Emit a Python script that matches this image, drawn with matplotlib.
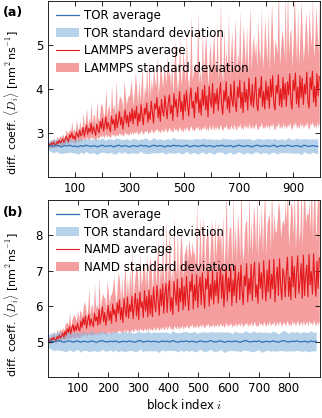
import numpy as np
import matplotlib
matplotlib.use("Agg")
import matplotlib.pyplot as plt

# ---- panel (a): TOR vs LAMMPS ----
tor_blocks_a = np.arange(0, 1000, 10)
tor_mean_a = [
    2.70, 2.71, 2.69, 2.72, 2.70, 2.68, 2.71, 2.70, 2.72, 2.69,
    2.70, 2.68, 2.71, 2.69, 2.72, 2.70, 2.69, 2.71, 2.68, 2.70,
    2.72, 2.69, 2.70, 2.71, 2.68, 2.70, 2.72, 2.69, 2.71, 2.70,
    2.68, 2.71, 2.70, 2.69, 2.72, 2.70, 2.71, 2.68, 2.70, 2.72,
    2.69, 2.71, 2.70, 2.68, 2.71, 2.69, 2.72, 2.70, 2.71, 2.69,
    2.70, 2.72, 2.68, 2.70, 2.71, 2.69, 2.70, 2.72, 2.69, 2.71,
    2.70, 2.68, 2.71, 2.70, 2.72, 2.69, 2.70, 2.71, 2.68, 2.70,
    2.72, 2.70, 2.69, 2.71, 2.70, 2.68, 2.71, 2.72, 2.69, 2.70,
    2.71, 2.69, 2.70, 2.72, 2.68, 2.70, 2.71, 2.69, 2.72, 2.70,
    2.69, 2.71, 2.70, 2.68, 2.72, 2.70, 2.69, 2.71, 2.70, 2.69,
]
tor_std_a = [
    0.10, 0.13, 0.15, 0.14, 0.16, 0.15, 0.17, 0.15, 0.16, 0.14,
    0.16, 0.17, 0.15, 0.16, 0.14, 0.17, 0.15, 0.16, 0.18, 0.15,
    0.16, 0.14, 0.17, 0.15, 0.16, 0.18, 0.15, 0.16, 0.14, 0.17,
    0.15, 0.16, 0.17, 0.15, 0.14, 0.16, 0.18, 0.15, 0.16, 0.17,
    0.15, 0.16, 0.14, 0.17, 0.16, 0.15, 0.18, 0.16, 0.15, 0.17,
    0.16, 0.14, 0.17, 0.15, 0.16, 0.18, 0.15, 0.16, 0.17, 0.15,
    0.16, 0.17, 0.15, 0.14, 0.16, 0.18, 0.16, 0.15, 0.17, 0.16,
    0.15, 0.16, 0.18, 0.15, 0.17, 0.16, 0.14, 0.16, 0.17, 0.15,
    0.16, 0.18, 0.15, 0.16, 0.17, 0.15, 0.16, 0.14, 0.17, 0.16,
    0.15, 0.17, 0.16, 0.18, 0.15, 0.16, 0.17, 0.15, 0.16, 0.17,
]
md_blocks_a = np.linspace(0, 1000, 240, endpoint=False)
lammps_mean = [
    2.70, 2.74, 2.71, 2.77, 2.73, 2.79, 2.74, 2.72, 2.80, 2.76, 2.83, 2.77, 2.81, 2.86, 2.78,
    2.84, 2.92, 2.86, 2.80, 2.95, 2.89, 3.00, 2.87, 2.93, 2.84, 3.02, 2.96, 2.90, 3.06, 2.93,
    2.98, 3.12, 2.92, 3.05, 3.18, 2.96, 3.10, 3.02, 3.22, 2.98, 3.14, 3.06, 2.94, 3.20, 3.08,
    3.00, 3.26, 3.10, 3.32, 3.04, 3.18, 3.36, 3.08, 3.24, 3.14, 3.02, 3.38, 3.20, 3.30, 3.06,
    3.42, 3.12, 3.28, 3.48, 3.18, 3.36, 3.08, 3.30, 3.52, 3.22, 3.40, 3.14, 3.46, 3.26, 3.55,
    3.20, 3.50, 3.32, 3.60, 3.16, 3.44, 3.26, 3.64, 3.38, 3.18, 3.56, 3.42, 3.68, 3.24, 3.48,
    3.30, 3.72, 3.46, 3.22, 3.66, 3.54, 3.80, 3.34, 3.60, 3.26, 3.76, 3.50, 3.38, 3.84, 3.56,
    3.32, 3.70, 3.86, 3.44, 3.62, 3.28, 3.90, 3.58, 3.76, 3.36, 3.66, 3.94, 3.48, 3.72, 3.30,
    3.88, 3.50, 3.96, 3.64, 3.38, 3.80, 4.02, 3.56, 3.72, 3.34, 3.92, 3.68, 4.04, 3.46, 3.76,
    3.40, 3.98, 3.62, 4.08, 3.52, 3.84, 3.36, 4.06, 3.74, 3.58, 4.12, 3.44, 3.90, 3.66, 4.00,
    3.50, 3.86, 4.14, 3.62, 3.42, 3.96, 3.72, 4.16, 3.54, 3.82, 3.46, 4.10, 3.76, 3.60, 4.18,
    3.66, 3.48, 4.04, 3.80, 4.20, 3.56, 3.92, 3.46, 4.16, 3.70, 3.98, 3.52, 4.24, 3.84, 3.62,
    4.10, 3.58, 3.90, 4.26, 3.64, 3.50, 4.02, 3.80, 4.28, 3.60, 3.94, 3.54, 4.18, 3.74, 4.06,
    3.56, 4.22, 3.82, 4.30, 3.66, 3.52, 4.08, 3.90, 4.32, 3.62, 4.00, 3.58, 4.26, 3.76, 4.12,
    3.60, 4.16, 3.86, 4.34, 3.70, 3.54, 4.20, 3.96, 4.36, 3.66, 4.04, 3.58, 4.30, 3.80, 4.24,
    3.64, 4.10, 3.88, 4.38, 3.72, 3.56, 4.26, 3.98, 4.40, 3.70, 4.06, 3.60, 4.34, 3.84, 4.28,
]
# upper deviation of the standard-deviation band
lammps_std = [
    0.05, 0.07, 0.06, 0.09, 0.07, 0.11, 0.08, 0.07, 0.13, 0.09, 0.10, 0.15, 0.09, 0.12, 0.10,
    0.11, 0.16, 0.12, 0.22, 0.13, 0.15, 0.26, 0.14, 0.18, 0.13, 0.30, 0.16, 0.15, 0.22, 0.17,
    0.18, 0.34, 0.19, 0.22, 0.40, 0.20, 0.24, 0.21, 0.46, 0.22, 0.26, 0.36, 0.23, 0.52, 0.25,
    0.26, 0.30, 0.58, 0.27, 0.32, 0.29, 0.66, 0.30, 0.34, 0.48, 0.31, 0.72, 0.33, 0.35, 0.32,
    0.80, 0.34, 0.38, 0.36, 0.62, 0.37, 0.40, 0.88, 0.38, 0.41, 0.39, 0.70, 0.42, 0.95, 0.40,
    0.42, 0.46, 1.05, 0.44, 0.47, 0.78, 0.45, 0.48, 1.15, 0.46, 0.50, 0.47, 0.90, 0.49, 1.20,
    0.50, 0.52, 0.49, 1.28, 0.53, 0.51, 0.95, 0.54, 0.52, 1.35, 0.55, 0.53, 1.05, 0.56, 0.54,
    1.45, 0.58, 0.56, 0.59, 1.10, 0.57, 0.60, 1.52, 0.58, 0.61, 0.59, 1.25, 0.62, 0.60, 1.60,
    0.62, 0.64, 1.30, 0.63, 0.65, 0.64, 1.66, 0.66, 0.65, 1.20, 0.67, 0.66, 1.72, 0.68, 0.67,
    0.69, 1.40, 0.68, 0.70, 1.78, 0.69, 0.71, 0.70, 1.35, 0.72, 0.71, 1.84, 0.73, 0.72, 1.50,
    0.73, 0.74, 1.88, 0.73, 0.75, 1.45, 0.74, 0.76, 0.75, 1.92, 0.77, 0.76, 1.55, 0.78, 0.77,
    1.96, 0.79, 0.78, 0.80, 1.60, 0.79, 0.81, 2.00, 0.80, 0.82, 1.48, 0.81, 0.83, 2.04, 0.82,
    0.84, 1.65, 0.83, 0.85, 0.84, 2.08, 0.86, 0.85, 1.58, 0.87, 0.86, 2.10, 0.88, 0.87, 1.70,
    0.88, 0.89, 2.12, 0.88, 0.90, 1.62, 0.89, 0.91, 2.15, 0.90, 0.92, 1.75, 0.91, 0.93, 2.05,
    0.92, 2.18, 0.93, 0.92, 1.68, 0.94, 0.93, 2.20, 0.95, 0.94, 1.80, 0.96, 0.95, 2.22, 0.96,
    0.97, 0.96, 1.85, 0.98, 0.97, 2.25, 0.99, 0.98, 1.72, 1.00, 0.99, 2.28, 1.01, 1.00, 1.90,
]
# lower edge of the standard-deviation band
lammps_lower = [
    2.64, 2.66, 2.64, 2.68, 2.65, 2.69, 2.66, 2.65, 2.70, 2.68, 2.72, 2.69, 2.71, 2.74, 2.70,
    2.74, 2.78, 2.75, 2.72, 2.80, 2.77, 2.82, 2.76, 2.79, 2.74, 2.83, 2.80, 2.78, 2.85, 2.80,
    2.84, 2.89, 2.82, 2.86, 2.91, 2.84, 2.88, 2.86, 2.93, 2.85, 2.90, 2.87, 2.83, 2.92, 2.88,
    2.88, 2.95, 2.90, 2.97, 2.89, 2.93, 2.98, 2.90, 2.95, 2.92, 2.88, 2.99, 2.94, 2.97, 2.90,
    2.98, 2.93, 2.96, 3.01, 2.94, 2.99, 2.92, 2.97, 3.03, 2.95, 3.00, 2.93, 3.02, 2.96, 3.04,
    2.96, 3.03, 2.99, 3.06, 2.95, 3.02, 2.98, 3.07, 3.01, 2.96, 3.05, 3.02, 3.08, 2.97, 3.03,
    3.00, 3.09, 3.03, 2.98, 3.07, 3.05, 3.11, 3.01, 3.06, 2.99, 3.10, 3.04, 3.02, 3.12, 3.06,
    3.01, 3.08, 3.13, 3.03, 3.07, 3.00, 3.14, 3.06, 3.10, 3.02, 3.08, 3.15, 3.04, 3.09, 3.01,
    3.13, 3.05, 3.15, 3.08, 3.03, 3.11, 3.17, 3.06, 3.10, 3.03, 3.14, 3.09, 3.17, 3.05, 3.11,
    3.04, 3.15, 3.08, 3.18, 3.06, 3.12, 3.04, 3.18, 3.10, 3.07, 3.19, 3.05, 3.14, 3.09, 3.16,
    3.06, 3.13, 3.19, 3.09, 3.05, 3.15, 3.11, 3.20, 3.07, 3.12, 3.06, 3.18, 3.12, 3.08, 3.21,
    3.10, 3.07, 3.17, 3.12, 3.22, 3.08, 3.15, 3.06, 3.21, 3.11, 3.17, 3.08, 3.23, 3.13, 3.09,
    3.19, 3.09, 3.14, 3.23, 3.10, 3.07, 3.17, 3.13, 3.24, 3.09, 3.16, 3.08, 3.21, 3.12, 3.18,
    3.08, 3.21, 3.13, 3.24, 3.10, 3.07, 3.18, 3.15, 3.25, 3.09, 3.17, 3.09, 3.23, 3.12, 3.19,
    3.09, 3.20, 3.14, 3.25, 3.11, 3.08, 3.21, 3.16, 3.26, 3.10, 3.18, 3.09, 3.24, 3.13, 3.22,
    3.10, 3.19, 3.15, 3.26, 3.12, 3.08, 3.23, 3.17, 3.27, 3.11, 3.19, 3.10, 3.25, 3.14, 3.23,
]

# ---- panel (b): TOR vs NAMD ----
tor_blocks_b = np.arange(0, 900, 9)
tor_mean_b = [
    5.00, 5.02, 4.99, 5.01, 5.03, 5.00, 4.98, 5.01, 5.02, 4.99,
    5.00, 5.02, 4.98, 5.01, 5.00, 4.99, 5.02, 5.00, 4.98, 5.01,
    5.03, 5.00, 4.99, 5.01, 5.00, 5.02, 4.98, 5.00, 5.01, 4.99,
    5.02, 5.00, 4.98, 5.01, 5.03, 4.99, 5.00, 5.02, 4.99, 5.01,
    5.00, 4.98, 5.02, 5.00, 5.01, 4.99, 5.03, 5.00, 4.98, 5.01,
    5.00, 5.02, 4.99, 5.01, 5.00, 4.98, 5.02, 5.01, 4.99, 5.00,
    5.03, 5.00, 4.99, 5.01, 5.02, 4.98, 5.00, 5.01, 4.99, 5.02,
    5.00, 4.98, 5.01, 5.03, 5.00, 4.99, 5.01, 5.00, 5.02, 4.98,
    5.00, 5.01, 4.99, 5.02, 5.00, 4.98, 5.01, 5.03, 5.00, 4.99,
    5.01, 5.00, 5.02, 4.99, 5.00, 5.01, 4.98, 5.02, 5.00, 5.01,
]
tor_std_b = [
    0.18, 0.22, 0.25, 0.24, 0.27, 0.25, 0.26, 0.28, 0.25, 0.27,
    0.26, 0.24, 0.28, 0.26, 0.25, 0.27, 0.29, 0.25, 0.26, 0.28,
    0.25, 0.27, 0.26, 0.24, 0.28, 0.26, 0.27, 0.25, 0.29, 0.26,
    0.27, 0.25, 0.26, 0.28, 0.24, 0.27, 0.26, 0.28, 0.25, 0.27,
    0.26, 0.29, 0.25, 0.27, 0.26, 0.24, 0.28, 0.26, 0.27, 0.25,
    0.28, 0.26, 0.27, 0.25, 0.29, 0.26, 0.24, 0.27, 0.28, 0.26,
    0.25, 0.27, 0.28, 0.26, 0.25, 0.29, 0.27, 0.26, 0.24, 0.28,
    0.26, 0.27, 0.25, 0.28, 0.26, 0.27, 0.29, 0.25, 0.26, 0.28,
    0.27, 0.25, 0.26, 0.28, 0.27, 0.24, 0.26, 0.29, 0.27, 0.25,
    0.28, 0.26, 0.27, 0.25, 0.28, 0.26, 0.27, 0.29, 0.26, 0.27,
]
md_blocks_b = np.linspace(0, 905, 240, endpoint=False)
namd_mean = [
    5.00, 5.05, 5.01, 5.09, 5.04, 5.12, 5.06, 5.03, 5.14, 5.08, 5.18, 5.10, 5.16, 5.24, 5.12,
    5.30, 5.18, 5.36, 5.26, 5.42, 5.22, 5.38, 5.48, 5.28, 5.44, 5.32, 5.52, 5.36, 5.30, 5.58,
    5.40, 5.66, 5.48, 5.72, 5.38, 5.60, 5.76, 5.44, 5.64, 5.52, 5.42, 5.80, 5.58, 5.70, 5.46,
    5.92, 5.50, 5.74, 5.98, 5.56, 5.82, 5.46, 5.70, 6.02, 5.60, 5.86, 5.52, 6.06, 5.76, 5.90,
    5.56, 6.10, 5.80, 6.18, 5.62, 5.96, 5.54, 6.22, 5.88, 5.70, 6.26, 5.66, 6.04, 5.84, 6.28,
    5.64, 6.00, 6.36, 5.72, 6.20, 5.62, 6.40, 5.96, 6.12, 5.68, 6.44, 5.86, 6.28, 5.70, 6.46,
    5.78, 6.30, 5.70, 6.54, 6.06, 5.84, 6.58, 6.18, 5.74, 6.48, 6.02, 6.62, 5.80, 6.36, 6.64,
    5.82, 6.44, 6.72, 5.86, 6.24, 5.76, 6.70, 6.34, 6.04, 6.76, 5.84, 6.50, 6.12, 6.80, 5.90,
    6.56, 6.00, 6.84, 6.28, 5.88, 6.70, 6.42, 6.90, 5.92, 6.60, 6.16, 6.88, 5.96, 6.52, 6.82,
    6.04, 6.94, 6.36, 5.94, 6.78, 6.48, 6.98, 6.00, 6.62, 6.20, 7.00, 6.06, 6.72, 6.30, 6.96,
    6.08, 6.66, 7.06, 6.22, 6.88, 5.98, 6.56, 7.10, 6.14, 6.80, 6.40, 7.08, 6.02, 6.74, 6.30,
    7.14, 6.10, 6.70, 6.96, 6.18, 7.16, 6.44, 6.04, 6.86, 6.58, 7.20, 6.12, 6.78, 6.34, 7.18,
    6.16, 6.84, 7.24, 6.26, 6.60, 6.08, 7.22, 6.50, 6.94, 6.20, 7.28, 6.66, 6.14, 7.02, 6.40,
    7.30, 6.22, 6.90, 6.48, 7.32, 6.12, 6.76, 7.10, 6.30, 7.34, 6.56, 6.18, 7.06, 6.86, 6.26,
    6.96, 7.38, 6.28, 6.82, 6.18, 7.40, 6.54, 7.12, 6.24, 6.92, 7.42, 6.36, 6.70, 7.20, 6.22,
    7.44, 6.30, 6.88, 7.16, 6.26, 7.46, 6.60, 6.98, 6.34, 7.48, 6.74, 6.28, 7.26, 6.50, 7.36,
]
namd_std = [
    0.08, 0.10, 0.09, 0.14, 0.10, 0.18, 0.12, 0.11, 0.22, 0.13, 0.15, 0.26, 0.14, 0.17, 0.15,
    0.18, 0.34, 0.19, 0.21, 0.42, 0.20, 0.23, 0.22, 0.50, 0.24, 0.26, 0.38, 0.25, 0.58, 0.27,
    0.28, 0.30, 0.66, 0.29, 0.32, 0.31, 0.75, 0.33, 0.35, 0.55, 0.34, 0.84, 0.36, 0.38, 0.37,
    0.92, 0.39, 0.41, 0.40, 0.70, 0.42, 0.44, 1.00, 0.43, 0.46, 0.45, 0.82, 0.47, 1.10, 0.48,
    0.49, 0.51, 1.18, 0.50, 0.53, 0.90, 0.52, 0.55, 1.28, 0.54, 0.57, 0.56, 1.00, 0.58, 1.36,
    0.59, 0.61, 0.60, 1.45, 0.63, 0.62, 1.10, 0.64, 0.66, 1.55, 0.65, 0.68, 1.22, 0.67, 0.69,
    1.62, 0.70, 0.72, 0.71, 1.30, 0.73, 0.75, 1.72, 0.74, 0.76, 0.75, 1.40, 0.77, 0.79, 1.80,
    0.78, 0.80, 1.50, 0.81, 0.83, 0.82, 1.88, 0.84, 0.86, 1.42, 0.85, 0.87, 1.95, 0.88, 0.90,
    0.89, 1.60, 0.91, 0.93, 2.02, 0.92, 0.94, 0.93, 1.55, 0.95, 0.97, 2.10, 0.96, 0.98, 1.70,
    0.99, 1.01, 2.16, 1.00, 1.02, 1.65, 1.01, 1.04, 1.03, 2.22, 1.05, 1.06, 1.78, 1.07, 1.05,
    2.28, 1.08, 1.10, 1.09, 1.72, 1.11, 1.13, 2.34, 1.12, 1.14, 1.85, 1.13, 1.15, 2.40, 1.16,
    1.17, 1.18, 1.90, 1.17, 1.19, 2.45, 1.20, 1.22, 1.21, 1.80, 1.23, 1.22, 2.50, 1.24, 1.25,
    1.26, 2.02, 1.25, 1.27, 2.55, 1.28, 1.27, 1.29, 1.95, 1.30, 1.31, 2.60, 1.30, 1.32, 2.08,
    1.33, 1.32, 2.64, 1.34, 1.35, 2.00, 1.34, 1.36, 2.68, 1.37, 1.36, 2.15, 1.38, 1.39, 2.72,
    1.40, 2.10, 1.41, 1.40, 2.75, 1.42, 1.43, 2.25, 1.42, 1.44, 2.78, 1.45, 1.44, 2.20, 1.46,
    1.47, 2.82, 1.46, 1.48, 2.30, 1.49, 1.48, 2.85, 1.50, 1.51, 2.40, 1.50, 1.52, 2.88, 1.53,
]
namd_lower = [
    4.93, 4.96, 4.94, 4.99, 4.95, 5.01, 4.97, 4.95, 5.03, 4.99, 5.06, 5.00, 5.04, 5.09, 5.02,
    5.09, 5.05, 5.11, 5.07, 5.13, 5.06, 5.12, 5.15, 5.08, 5.14, 5.10, 5.16, 5.12, 5.09, 5.18,
    5.14, 5.21, 5.17, 5.23, 5.13, 5.19, 5.24, 5.16, 5.21, 5.18, 5.15, 5.25, 5.20, 5.23, 5.17,
    5.28, 5.19, 5.24, 5.29, 5.20, 5.26, 5.18, 5.23, 5.30, 5.21, 5.27, 5.20, 5.31, 5.25, 5.28,
    5.23, 5.32, 5.27, 5.34, 5.24, 5.30, 5.22, 5.35, 5.29, 5.26, 5.36, 5.25, 5.31, 5.28, 5.37,
    5.27, 5.33, 5.38, 5.29, 5.36, 5.27, 5.39, 5.33, 5.35, 5.28, 5.40, 5.31, 5.37, 5.29, 5.41,
    5.31, 5.38, 5.30, 5.42, 5.35, 5.32, 5.43, 5.37, 5.31, 5.41, 5.34, 5.44, 5.32, 5.39, 5.45,
    5.33, 5.41, 5.46, 5.34, 5.39, 5.32, 5.46, 5.40, 5.36, 5.47, 5.33, 5.43, 5.37, 5.48, 5.35,
    5.44, 5.37, 5.49, 5.41, 5.36, 5.47, 5.43, 5.50, 5.37, 5.45, 5.39, 5.50, 5.38, 5.44, 5.49,
    5.39, 5.51, 5.43, 5.38, 5.49, 5.45, 5.52, 5.39, 5.47, 5.41, 5.52, 5.40, 5.48, 5.43, 5.52,
    5.40, 5.48, 5.53, 5.42, 5.50, 5.39, 5.47, 5.54, 5.41, 5.50, 5.45, 5.54, 5.40, 5.49, 5.43,
    5.55, 5.41, 5.49, 5.53, 5.42, 5.55, 5.46, 5.41, 5.52, 5.48, 5.56, 5.42, 5.51, 5.45, 5.56,
    5.42, 5.52, 5.57, 5.44, 5.48, 5.41, 5.57, 5.47, 5.53, 5.43, 5.58, 5.49, 5.42, 5.54, 5.46,
    5.58, 5.43, 5.53, 5.48, 5.58, 5.42, 5.51, 5.56, 5.45, 5.59, 5.49, 5.43, 5.55, 5.53, 5.44,
    5.54, 5.59, 5.44, 5.52, 5.43, 5.60, 5.48, 5.56, 5.44, 5.54, 5.60, 5.46, 5.50, 5.57, 5.44,
    5.60, 5.45, 5.53, 5.57, 5.44, 5.61, 5.50, 5.55, 5.46, 5.61, 5.52, 5.45, 5.58, 5.48, 5.59,
]

plt.rcParams['font.family'] = ['DejaVu Sans']
plt.rcParams['mathtext.fontset'] = 'cm'
plt.rcParams['font.size'] = 8.5

BLUE_LINE = '#2f72b8'
BLUE_FILL = '#86b4dc'
RED_LINE = '#e3191c'
RED_FILL = '#e8282b'

ylab = r'diff. coeff. $\langle D_i\rangle$ [nm$^2\,$ns$^{-1}$]'


def panel(ax, tx, tm, ts, mx, rm, ru, rlo, name):
    tm, ts, rm, ru = map(np.asarray, (tm, ts, rm, ru))
    ax.fill_between(mx, rlo, rm + ru, color=RED_FILL, alpha=0.45, lw=0,
                    label=name + ' standard deviation')
    ax.plot(mx, rm, color=RED_LINE, lw=0.8, label=name + ' average')
    ax.fill_between(tx, tm - ts, tm + ts, color=BLUE_FILL, alpha=0.6, lw=0,
                    label='TOR standard deviation')
    ax.plot(tx, tm, color=BLUE_LINE, lw=0.9, label='TOR average')
    h, l = ax.get_legend_handles_labels()
    order = [3, 2, 1, 0]
    ax.legend([h[i] for i in order], [l[i] for i in order], loc='upper left',
              frameon=False, handlelength=1.9, handletextpad=0.45,
              handleheight=0.9, labelspacing=0.38, borderaxespad=0.4,
              borderpad=0.3, fontsize=8.5)
    ax.tick_params(direction='in', top=True, right=True, length=3.5,
                   width=0.6, labelsize=8.5)
    for s in ax.spines.values():
        s.set_linewidth(0.6)
    ax.set_ylabel(ylab, fontsize=8)


fig = plt.figure(figsize=(3.22, 4.18), dpi=100)
ax1 = fig.add_axes([0.149, 0.577, 0.846, 0.421])
ax2 = fig.add_axes([0.149, 0.098, 0.846, 0.424])

panel(ax1, tor_blocks_a, tor_mean_a, tor_std_a, md_blocks_a,
      lammps_mean, lammps_std, lammps_lower, 'LAMMPS')
ax1.set_xlim(0, 1000)
ax1.set_ylim(2, 6)
ax1.set_xticks(np.arange(100, 1000, 100))
ax1.set_xticklabels(['100', '', '300', '', '500', '', '700', '', '900'])
ax1.set_yticks([3, 4, 5])
ax1.yaxis.set_label_coords(-0.10, 0.42)

panel(ax2, tor_blocks_b, tor_mean_b, tor_std_b, md_blocks_b,
      namd_mean, namd_std, namd_lower, 'NAMD')
ax2.set_xlim(0, 905)
ax2.set_ylim(4, 9)
ax2.set_xticks(np.arange(100, 900, 100))
ax2.set_yticks([5, 6, 7, 8])
ax2.set_xlabel(r'block index $i$', labelpad=2)
ax2.yaxis.set_label_coords(-0.10, 0.41)

fig.text(0.008, 0.971, '(a)', fontweight='bold', fontsize=9, va='center')
fig.text(0.008, 0.491, '(b)', fontweight='bold', fontsize=9, va='center')

fig.savefig('out.png', dpi=100)
